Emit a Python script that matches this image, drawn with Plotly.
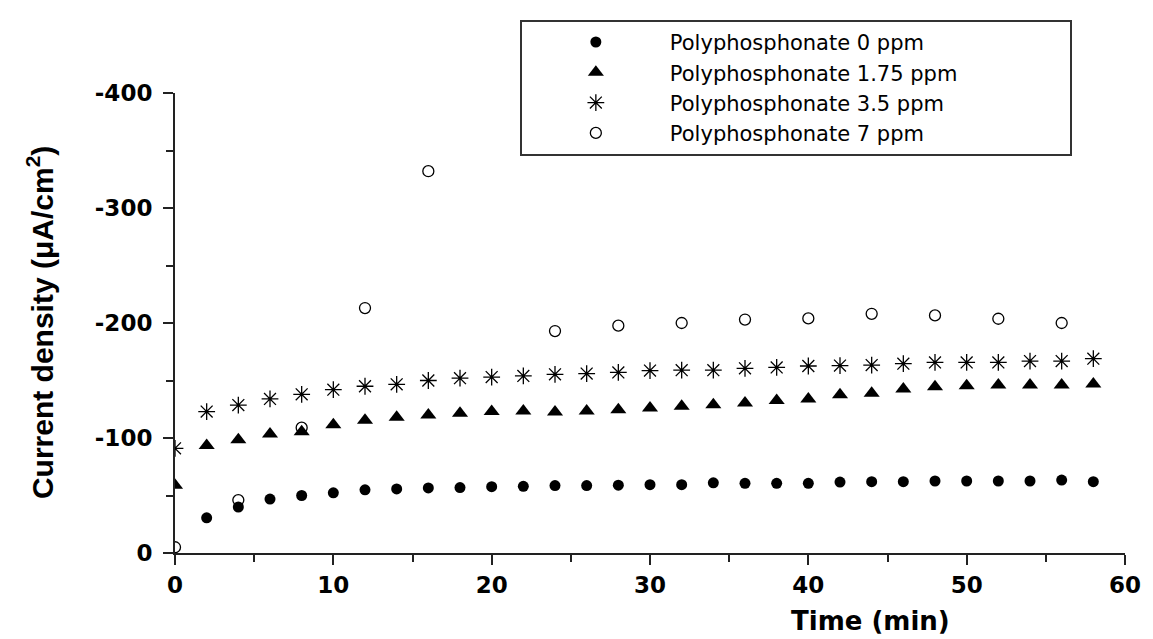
import plotly.graph_objects as go

# ---- data ----
time_0ppm = [2, 4, 6, 8, 10, 12, 14, 16, 18, 20, 22, 24, 26, 28, 30, 32, 34, 36, 38, 40,
             42, 44, 46, 48, 50, 52, 54, 56, 58]
cd_0ppm = [-30.6, -40, -46.9, -50, -52.3, -54.9, -55.7, -56.6, -56.9, -57.7, -58, -58.6,
           -58.6, -59, -59.4, -59.4, -61, -60.6, -60.6, -60.6, -61.7, -62, -62, -62.6,
           -62.6, -62.6, -62.6, -63.4, -62]

time_175ppm = [0, 2, 4, 6, 8, 10, 12, 14, 16, 18, 20, 22, 24, 26, 28, 30, 32, 34, 36, 38,
               40, 42, 44, 46, 48, 50, 52, 54, 56, 58]
cd_175ppm = [-59, -93.5, -98.5, -103.5, -105.5, -111.5, -115.5, -118, -120, -121.5, -123,
             -123.5, -122.5, -123.5, -124.5, -126, -127.5, -129, -130.5, -132.5, -134,
             -137.5, -139, -142.5, -144.5, -145.5, -146, -146, -146, -147]

time_35ppm = [0, 2, 4, 6, 8, 10, 12, 14, 16, 18, 20, 22, 24, 26, 28, 30, 32, 34, 36, 38,
              40, 42, 44, 46, 48, 50, 52, 54, 56, 58]
cd_35ppm = [-91, -123, -128.6, -134, -138, -142, -145, -146.7, -150, -152, -153, -154,
            -155.4, -156, -157, -158.6, -159, -159, -160.6, -161.4, -162.6, -163, -163.4,
            -164.6, -165.7, -165.7, -165.7, -166.9, -166.9, -169]

time_7ppm = [0, 4, 8, 12, 16, 24, 28, 32, 36, 40, 44, 48, 52, 56]
cd_7ppm = [-5, -46, -109, -213, -332, -193, -197.7, -200, -203, -204, -208, -206.6,
           -203.7, -200]

series_names = ["Polyphosphonate 0 ppm", "Polyphosphonate 1.75 ppm",
                "Polyphosphonate 3.5 ppm", "Polyphosphonate 7 ppm"]

y_tickvals = [0, -100, -200, -300, -400]
y_ticktext = ["0", "-100", "-200", "-300", "-400"]
y_minorvals = [-50, -150, -250, -350]
x_tickvals = [0, 10, 20, 30, 40, 50, 60]
x_ticktext = ["0", "10", "20", "30", "40", "50", "60"]

x_title = "Time (min)"
y_title = "Current density (μA/cm<sup>2</sup>)"

# legend box is wider than its text in the reference: pad the longest entry
legend_pad = "\u00a0" * 16
legend_names = [series_names[0], series_names[1] + legend_pad,
                series_names[2], series_names[3]]

# ---- figure ----
fig = go.Figure()
fig.add_trace(go.Scatter(x=time_0ppm, y=cd_0ppm, mode="markers", name=legend_names[0],
                         marker=dict(symbol="circle", size=11, color="black")))
fig.add_trace(go.Scatter(x=time_175ppm, y=cd_175ppm, mode="markers", name=legend_names[1],
                         marker=dict(symbol="triangle-up", size=14, color="black")))
fig.add_trace(go.Scatter(x=time_35ppm, y=cd_35ppm, mode="markers", name=legend_names[2],
                         marker=dict(symbol="asterisk-open", size=14, color="black",
                                     line=dict(color="black", width=1.3))))
fig.add_trace(go.Scatter(x=time_7ppm, y=cd_7ppm, mode="markers", name=legend_names[3],
                         marker=dict(symbol="circle-open", size=11, color="black",
                                     line=dict(color="black", width=1.3))))

tick_font = dict(family="DejaVu Sans", size=23, color="black", weight="bold")

# the page body adds an 8px offset at top/left, so the figure is 8px smaller than the window
fig.update_layout(
    width=1145, height=631,
    margin=dict(l=167, r=20, t=79, b=86),
    paper_bgcolor="white", plot_bgcolor="white",
    showlegend=True,
    legend=dict(x=0.363, y=1.159, xanchor="left", yanchor="top",
                bgcolor="white", bordercolor="#333333", borderwidth=2,
                font=dict(family="DejaVu Sans", size=21, color="black"),
                itemwidth=138, tracegroupgap=0),
    xaxis=dict(range=[0, 60], tickmode="array", tickvals=x_tickvals, ticktext=x_ticktext,
               showline=True, linecolor="#222222", linewidth=2, mirror=False,
               showgrid=False, zeroline=False,
               ticks="outside", ticklen=10, tickwidth=2, tickcolor="#222222",
               tickfont=tick_font,
               minor=dict(dtick=5, tick0=0, ticks="outside", ticklen=7, tickwidth=2,
                          tickcolor="#222222", showgrid=False)),
    yaxis=dict(range=[0, -400], tickmode="array", tickvals=y_tickvals, ticktext=y_ticktext,
               showline=True, linecolor="#222222", linewidth=2, mirror=False,
               showgrid=False, zeroline=False,
               ticks="outside", ticklen=10, tickwidth=2, tickcolor="#222222",
               tickfont=tick_font, ticklabelstandoff=6,
               minor=dict(tickmode="array", tickvals=y_minorvals, ticks="outside",
                          ticklen=7, tickwidth=2, tickcolor="#222222", showgrid=False)),
    annotations=[
        dict(text=x_title, xref="paper", yref="paper", x=0.732, y=-0.148,
             xanchor="center", yanchor="middle", showarrow=False,
             font=dict(family="DejaVu Sans", size=26, color="black", weight="bold")),
        dict(text=y_title, xref="paper", yref="paper", x=-0.142, y=0.5,
             xanchor="center", yanchor="middle", textangle=-90, showarrow=False,
             font=dict(family="Liberation Sans", size=30, color="black", weight="bold")),
    ],
)

fig.write_html("out.html")
